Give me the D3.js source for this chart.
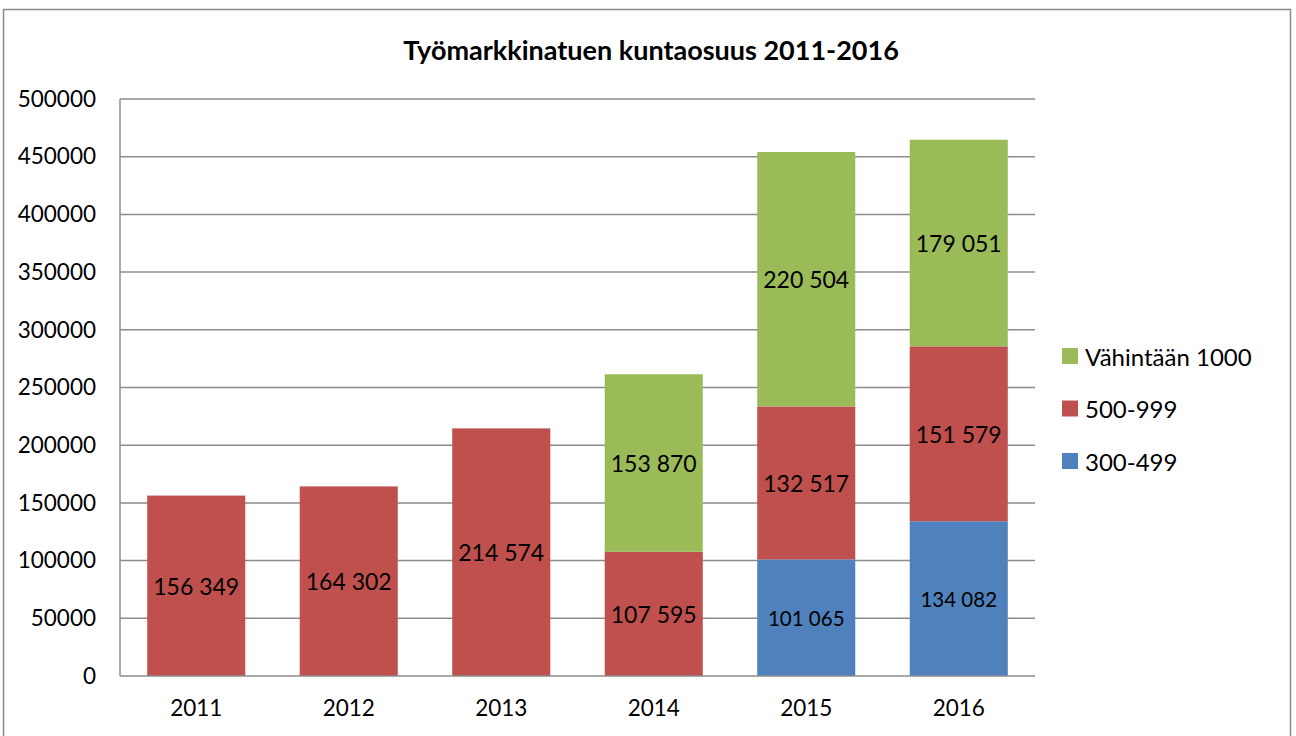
<!DOCTYPE html>
<html><head><meta charset="utf-8">
<script src="https://cdn.jsdelivr.net/npm/d3@7"></script>
<style>body{margin:0;background:#fff}svg{display:block}text{font-family:Lato,"Open Sans",sans-serif}</style>
</head><body>
<svg id="c" width="1296" height="736"></svg>
<script>
const title = "Työmarkkinatuen kuntaosuus 2011-2016";
const years = ["2011","2012","2013","2014","2015","2016"];
const seriesNames = ["300-499","500-999","Vähintään 1000"];
const s300_499 = [0,0,0,0,101065,134082];
const s500_999 = [156349,164302,214574,107595,132517,151579];
const s1000 = [0,0,0,153870,220504,179051];
const yTicks = [0,50000,100000,150000,200000,250000,300000,350000,400000,450000,500000];
const colors = ["#4F81BD","#C0504D","#9BBB59"];

const svg = d3.select("#c");
svg.append("rect").attr("x",3.5).attr("y",9.5).attr("width",1287).attr("height",740)
  .attr("fill","#fff").attr("stroke","#8a8a8a").attr("stroke-width",1.5);

const L=120,R=1035,T=99,B=676;
const x = d3.scaleBand().domain(years).range([L,R]).paddingInner(0.357).paddingOuter(0.1785);
const y = d3.scaleLinear().domain([0,500000]).range([B,T]);

// gridlines
svg.append("g").selectAll("line").data(yTicks.filter(d=>d>0)).join("line")
  .attr("x1",L).attr("x2",R).attr("y1",d=>y(d)).attr("y2",d=>y(d))
  .attr("stroke","#8c8c8c").attr("stroke-width",1.5);

const table = years.map((yr,i)=>({year:yr,"300-499":s300_499[i],"500-999":s500_999[i],"Vähintään 1000":s1000[i]}));
const stack = d3.stack().keys(seriesNames)(table);

const g = svg.append("g");
stack.forEach((layer,si)=>{
  g.selectAll(null).data(layer.filter(d=>d[1]-d[0]>0)).join("rect")
    .attr("x",d=>x(d.data.year)).attr("width",x.bandwidth())
    .attr("y",d=>y(d[1])).attr("height",d=>y(d[0])-y(d[1]))
    .attr("fill",colors[si]);
});
const fmt = v => d3.format(",")(v).replace(/,/g," ");
stack.forEach((layer,si)=>{
  g.selectAll(null).data(layer.filter(d=>d[1]-d[0]>0)).join("text")
    .attr("x",d=>x(d.data.year)+x.bandwidth()/2)
    .attr("y",d=>(y(d[0])+y(d[1]))/2)
    .attr("text-anchor","middle").attr("dominant-baseline","central")
    .attr("font-size",si===0?20.5:23).attr("fill","#000")
    .text(d=>fmt(d[1]-d[0]));
});

// axes lines
svg.append("line").attr("x1",L).attr("x2",L).attr("y1",T).attr("y2",B).attr("stroke","#8c8c8c").attr("stroke-width",1.5);
svg.append("line").attr("x1",L).attr("x2",R).attr("y1",B).attr("y2",B).attr("stroke","#8c8c8c").attr("stroke-width",1.5);

const ya = d3.axisLeft(y).tickValues(yTicks).tickSize(0).tickPadding(24).tickFormat(d=>String(d));
const yg = svg.append("g").attr("transform",`translate(${L},0)`).call(ya);
yg.select(".domain").remove();
yg.selectAll("text").attr("font-size",22.5).attr("fill","#000").attr("font-family","Lato");

const xa = d3.axisBottom(x).tickSize(0).tickPadding(24);
const xg = svg.append("g").attr("transform",`translate(0,${B})`).call(xa);
xg.select(".domain").remove();
xg.selectAll("text").attr("font-size",22.5).attr("fill","#000").attr("font-family","Lato");

svg.append("text").attr("x",651).attr("y",49).attr("text-anchor","middle").attr("dominant-baseline","central")
  .attr("font-size",27).attr("font-weight","bold").attr("fill","#000").text(title);

// legend
const legendOrder = ["Vähintään 1000","500-999","300-499"];
const lg = svg.append("g");
legendOrder.forEach((n,i)=>{
  const cy = 356 + i*52.5;
  lg.append("rect").attr("x",1062).attr("y",cy-8).attr("width",16).attr("height",16).attr("fill",colors[seriesNames.indexOf(n)]);
  lg.append("text").attr("x",1085).attr("y",cy).attr("dominant-baseline","central").attr("font-size",24).attr("fill","#000").text(n);
});
</script>
</body></html>
